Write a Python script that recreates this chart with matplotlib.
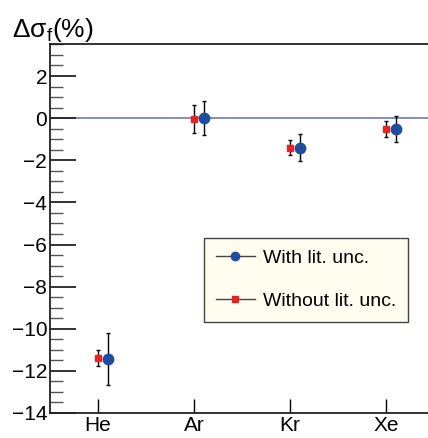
import matplotlib
matplotlib.use("Agg")
import matplotlib.pyplot as plt
from matplotlib.ticker import MultipleLocator
from matplotlib.lines import Line2D

plt.rcParams['font.family'] = ['Liberation Sans', 'DejaVu Sans']
plt.rcParams['mathtext.fontset'] = 'custom'
plt.rcParams['mathtext.rm'] = 'Liberation Sans'

# Daten
gases = ["He", "Ar", "Kr", "Xe"]
with_lit = [-11.43, 0.0, -1.40, -0.52]
with_lit_err = [1.24, 0.82, 0.63, 0.60]
without_lit = [-11.40, -0.05, -1.40, -0.52]
without_lit_err = [0.39, 0.67, 0.35, 0.38]

pos = [i + 0.5 for i in range(len(gases))]
blue = "#1f4ea0"
red = "#e8231f"

fig = plt.figure(figsize=(4.28, 4.38), dpi=100)
ax = fig.add_axes([50 / 428, 25 / 438, 384 / 428, 369 / 438])

ax.axhline(0, color="#7a84b8", lw=1.3, zorder=1)

ax.errorbar(pos, without_lit, yerr=without_lit_err, fmt="s", color=red,
            ms=4.5, ecolor="black", elinewidth=1.0, capsize=1.5, zorder=3)
ax.errorbar([p + 0.1 for p in pos], with_lit, yerr=with_lit_err, fmt="o",
            color=blue, ms=7.5, ecolor="black", elinewidth=1.0, capsize=1.5,
            zorder=3)

ax.set_xlim(0, 4)
ax.set_ylim(-14, 3.52)
ax.set_xticks(pos)
ax.set_xticklabels(gases, fontsize=15)
ax.yaxis.set_minor_locator(MultipleLocator(0.5))
ax.set_yticks(range(-14, 3, 2))
ax.set_yticklabels([("\u2212%d" % -v) if v < 0 else str(v) for v in range(-14, 3, 2)],
                   fontsize=15)
ax.tick_params(axis="y", which="major", direction="in", length=19, width=1.3,
               pad=2, color="#222222")
ax.tick_params(axis="y", which="minor", direction="in", length=9, width=1.0,
               color="#555555")
ax.tick_params(axis="x", which="major", direction="in", length=10, width=1.0,
               pad=2)
ax.tick_params(axis="x", which="minor", bottom=False)
for s in ["left", "bottom", "top"]:
    ax.spines[s].set_linewidth(1.3)
    ax.spines[s].set_color("#222222")
ax.spines["right"].set_visible(False)

handles = [
    Line2D([], [], color="#444444", lw=1.0, marker="o", ms=6, mfc=blue, mec=blue),
    Line2D([], [], color="#444444", lw=1.0, marker="s", ms=4, mfc=red, mec=red),
]
labels = ["With lit. unc.", "Without lit. unc."]
leg = ax.legend(handles, labels, loc="upper left",
                bbox_to_anchor=((204 - 50) / 384, (413 - 238) / 369),
                fontsize=14, frameon=True, fancybox=False, edgecolor="#444444",
                facecolor="#fffdf0", framealpha=1, borderpad=0.6, labelspacing=1.3,
                handlelength=2.0, handletextpad=0.45, borderaxespad=0)
leg.get_frame().set_linewidth(1.0)

fig.text(12 / 428, 1 - 30 / 438, "\u0394\u03c3$_{\\rm f}$(%)", fontsize=19,
         va="center", ha="left")

fig.savefig("out.png", dpi=100)
